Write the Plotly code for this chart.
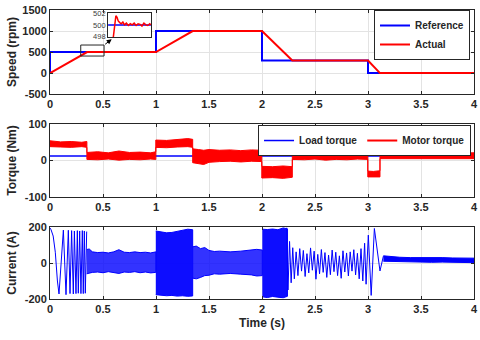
import plotly.graph_objects as go

# ---- speed (rpm) ----
ref_t = [0, 0, 1.0, 1.0, 2.0, 2.0, 3.0, 3.0, 4.0]
ref_speed = [0, 500, 500, 1000, 1000, 300, 300, 0, 0]
act_t = [0, 0.35, 1.0, 1.346, 2.0, 2.286, 3.0, 3.113, 4.0]
act_speed = [0, 500, 500, 1000, 1000, 300, 300, 0, 0]

# zoomed inset around the first step
inset_ref_t = [0.29, 0.51]
inset_ref_speed = [500, 500]
inset_act_t = [0.316, 0.322, 0.330, 0.336, 0.342, 0.350, 0.358, 0.366, 0.374, 0.384, 0.394,
               0.404, 0.414, 0.424, 0.434, 0.444, 0.454, 0.464, 0.474, 0.484, 0.494, 0.504, 0.51]
inset_act_speed = [497.6, 499.2, 501.6, 501.3, 500.7, 500.4, 500.2, 500.5, 500.0, 500.3, 499.9,
                   500.2, 500.0, 500.3, 499.9, 500.2, 500.1, 499.8, 500.3, 500.0, 499.9, 500.2, 500.0]
inset_x_range = [0.29, 0.51]
inset_y_range = [497.9, 502.1]

# ---- torque (Nm) ----
load_t = [0, 4.0]
load_torque = [12, 12]
# motor torque drawn as its noisy band: upper / lower envelope
mt_t = [0, 0.1, 0.2, 0.3, 0.348, 0.348, 0.45, 0.55, 0.65, 0.75, 0.85, 0.95, 0.998,
        0.998, 1.1, 1.2, 1.3, 1.346, 1.346, 1.4, 1.45, 1.5, 1.6, 1.7, 1.8, 1.9, 1.998,
        1.998, 2.1, 2.2, 2.286, 2.286, 2.4, 2.5, 2.6, 2.7, 2.8, 2.9, 2.998,
        2.998, 3.05, 3.113, 3.113, 3.3, 3.5, 3.7, 3.9, 4.0]
mt_upper = [54, 51, 52, 50, 52, 22, 24, 21, 26, 22, 23, 21, 24,
            56, 55, 57, 60, 58, 32, 30, 28, 30, 28, 29, 27, 29, 28,
            -16, -17, -15, -17, 26, 28, 24, 29, 25, 30, 26, 27,
            -29, -30, -28, 23, 22, 24, 21, 22, 21]
mt_lower = [38, 37, 36, 38, 36, 3, 2, 4, 1, 3, 2, 4, 3,
            36, 35, 37, 38, 36, -6, -8, -11, -5, -3, -2, -4, -2, -3,
            -48, -47, -49, -46, 3, 2, 4, 1, 3, 2, 4, 3,
            -45, -44, -45, 5, 4, 6, 4, 5, 5]

# ---- current (A) ----
# start-up oscillation (individual swings)
cur_a_t = [0, 0.01, 0.03, 0.05, 0.07, 0.085, 0.105, 0.126, 0.151, 0.173, 0.189, 0.204, 0.220,
           0.230, 0.245, 0.258, 0.267, 0.280, 0.292, 0.305, 0.314, 0.324, 0.333, 0.346]
cur_a = [195, 185, 150, 60, -100, -172, 0, 183, -176, 182, -170, 180, -172,
         178, -170, 180, -168, 178, -170, 180, -170, 178, -168, 175]
# dense parts drawn as envelope bands
band1_t = [0.346, 0.37, 0.40, 0.45, 0.50, 0.55, 0.60, 0.65, 0.70, 0.75, 0.80, 0.85, 0.90, 0.95, 0.998]
band1_up = [75, 78, 62, 58, 60, 56, 62, 74, 60, 58, 62, 58, 60, 56, 62]
band1_lo = [-60, -58, -52, -50, -54, -48, -52, -58, -50, -52, -48, -54, -50, -55, -52]
band2_t = [0.998, 1.05, 1.10, 1.15, 1.20, 1.25, 1.30, 1.346]
band2_up = [178, 172, 168, 170, 176, 182, 188, 185]
band2_lo = [-176, -178, -182, -180, -184, -182, -185, -183]
band3_t = [1.346, 1.38, 1.42, 1.46, 1.50, 1.55, 1.60, 1.70, 1.80, 1.90, 1.95, 2.003]
band3_up = [90, 94, 80, 86, 70, 64, 66, 62, 66, 70, 76, 72]
band3_lo = [-84, -88, -80, -70, -68, -60, -62, -58, -62, -66, -72, -70]
band4_t = [2.003, 2.05, 2.10, 2.15, 2.20, 2.24]
band4_up = [188, 186, 189, 185, 195, 190]
band4_lo = [-188, -192, -186, -190, -193, -185]
# speed-down oscillation 2.24 .. 3.15 s
cur_b_t = [2.233, 2.245, 2.26, 2.275, 2.29, 2.305, 2.322, 2.339, 2.356, 2.373, 2.390, 2.407, 2.424,
           2.441, 2.458, 2.475, 2.492, 2.509, 2.526, 2.543, 2.560, 2.577, 2.594, 2.611, 2.628,
           2.645, 2.662, 2.679, 2.696, 2.713, 2.730, 2.747, 2.764, 2.781, 2.798, 2.815, 2.832,
           2.849, 2.866, 2.883, 2.900, 2.917, 2.934, 2.951, 2.968, 2.982, 3.003, 3.03, 3.06,
           3.113, 3.145]
cur_b = [196, -150, 120, -110, 85, -88, 62, -70, 80, -45, 70, -75, 52, -55, 84, -40, 66, -90, 48,
         -60, 75, -52, 58, -80, 44, -65, 72, -48, 60, -70, 40, -85, 68, -50, 56, -72, 62,
         -45, 74, -66, 54, -88, 80, -100, 110, -118, 155, -180, 192, -44, 38]
# steady state band 3.145 .. 4 s
band5_t = [3.145, 3.2, 3.3, 3.4, 3.5, 3.6, 3.7, 3.8, 3.9, 4.0]
band5_up = [40, 36, 32, 30, 31, 29, 30, 28, 29, 27]
band5_lo = [10, 8, 6, 5, 6, 4, 5, 3, 4, 2]

x_ticks = [0, 0.5, 1, 1.5, 2, 2.5, 3, 3.5, 4]
x_labels = ["0", "0.5", "1", "1.5", "2", "2.5", "3", "3.5", "4"]
speed_ticks = [-500, 0, 500, 1000, 1500]
torque_ticks = [-100, 0, 100]
current_ticks = [-200, 0, 200]
inset_ticks = [498, 500, 502]

BLUE = "#0000ff"
RED = "#ff0000"
DARK = "#262626"
FONT = "Liberation Sans, Arial, sans-serif"

fig = go.Figure()

fig.add_trace(go.Scatter(x=ref_t, y=ref_speed, name="Reference", mode="lines",
                         line=dict(color=BLUE, width=2), xaxis="x", yaxis="y", legend="legend"))
fig.add_trace(go.Scatter(x=act_t, y=act_speed, name="Actual", mode="lines",
                         line=dict(color=RED, width=2), xaxis="x", yaxis="y", legend="legend"))

# white backing for the inset so the main grid does not show through it
ix0, ix1 = inset_x_range
iy0, iy1 = inset_y_range
fig.add_trace(go.Scatter(x=[ix0, ix1, ix1, ix0, ix0], y=[iy0, iy0, iy1, iy1, iy0], mode="lines",
                         fill="toself", fillcolor="white", line=dict(width=0), hoverinfo="skip",
                         showlegend=False, xaxis="x4", yaxis="y4"))
fig.add_trace(go.Scatter(x=inset_ref_t, y=inset_ref_speed, mode="lines", showlegend=False,
                         line=dict(color=BLUE, width=1.5), xaxis="x4", yaxis="y4"))
fig.add_trace(go.Scatter(x=inset_act_t, y=inset_act_speed, mode="lines", showlegend=False,
                         line=dict(color=RED, width=1.5), xaxis="x4", yaxis="y4"))

# torque
fig.add_trace(go.Scatter(x=load_t, y=load_torque, name="Load torque", mode="lines",
                         line=dict(color=BLUE, width=1.5), xaxis="x2", yaxis="y2", legend="legend2"))
fig.add_trace(go.Scatter(x=mt_t + mt_t[::-1], y=mt_upper + mt_lower[::-1], mode="lines",
                         fill="toself", fillcolor=RED, line=dict(color=RED, width=1),
                         showlegend=False, xaxis="x2", yaxis="y2"))
fig.add_trace(go.Scatter(x=[None], y=[None], name="Motor torque", mode="lines",
                         line=dict(color=RED, width=2), xaxis="x2", yaxis="y2", legend="legend2"))

# current
fig.add_trace(go.Scatter(x=cur_a_t, y=cur_a, mode="lines", showlegend=False,
                         line=dict(color=BLUE, width=1), xaxis="x3", yaxis="y3"))
bands = [(band1_t, band1_up, band1_lo, "rgba(0,0,255,0.8)"),
         (band2_t, band2_up, band2_lo, "rgba(0,0,255,0.95)"),
         (band3_t, band3_up, band3_lo, "rgba(0,0,255,0.8)"),
         (band4_t, band4_up, band4_lo, "rgba(0,0,255,0.95)"),
         (band5_t, band5_up, band5_lo, BLUE)]
for bt, bu, bl, fc in bands:
    fig.add_trace(go.Scatter(x=bt + bt[::-1], y=bu + bl[::-1], mode="lines", fill="toself",
                             fillcolor=fc, line=dict(color=BLUE, width=1), showlegend=False,
                             xaxis="x3", yaxis="y3"))
fig.add_trace(go.Scatter(x=cur_b_t, y=cur_b, mode="lines", showlegend=False,
                         line=dict(color=BLUE, width=1), xaxis="x3", yaxis="y3"))

bold = dict(family=FONT, size=11, color=DARK, weight="bold")
title_font = dict(family=FONT, size=12, color=DARK, weight="bold")
legend_font = dict(family=FONT, size=10, color=DARK, weight="bold")


def xax(anchor, title=None):
    d = dict(domain=[0, 1], range=[0, 4], anchor=anchor, tickvals=x_ticks, ticktext=x_labels,
             showgrid=True, gridcolor="#e3e3e3", zeroline=False, showline=True, linecolor=DARK,
             linewidth=1, mirror="allticks", ticks="inside", ticklen=3, tickcolor=DARK,
             tickfont=bold, automargin=False, ticklabeloverflow="allow")
    if title:
        d["title"] = dict(text=title, font=title_font, standoff=4)
    return d


def yax(anchor, dom, rng, ticks, title):
    return dict(domain=dom, range=rng, anchor=anchor, tickvals=ticks,
                ticktext=[str(t) for t in ticks],
                showgrid=True, gridcolor="#e3e3e3", zeroline=False, showline=True, linecolor=DARK,
                linewidth=1, mirror="allticks", ticks="inside", ticklen=3, tickcolor=DARK,
                tickfont=bold, automargin=False, ticklabeloverflow="allow",
                title=dict(text=title, font=title_font))


fig.update_layout(
    width=480, height=340,
    margin=dict(l=50, r=6, t=10, b=41),
    paper_bgcolor="white", plot_bgcolor="white",
    template="none",
    xaxis=xax("y"),
    yaxis=yax("x", [0.709, 1.0], [-500, 1500], speed_ticks, "Speed (rpm)"),
    xaxis2=xax("y2"),
    yaxis2=yax("x2", [0.353, 0.6055], [-100, 100], torque_ticks, "Torque (Nm)"),
    xaxis3=xax("y3", "Time (s)"),
    yaxis3=yax("x3", [0, 0.249], [-200, 200], current_ticks, "Current (A)"),
    xaxis4=dict(domain=[0.137, 0.238], range=inset_x_range, anchor="y4", showticklabels=False,
                showgrid=False, zeroline=False, showline=True, linecolor=DARK, mirror=True, ticks="",
                automargin=False),
    yaxis4=dict(domain=[0.907, 0.99], range=inset_y_range, anchor="x4", tickvals=inset_ticks,
                ticktext=[str(t) for t in inset_ticks], showgrid=False, zeroline=False,
                showline=True, linecolor=DARK, mirror=True, ticks="", automargin=False,
                tickfont=dict(family=FONT, size=7.5, color="#404040")),
    legend=dict(x=0.9906, xanchor="right", y=1.0, yanchor="top", bgcolor="white",
                bordercolor=DARK, borderwidth=1, font=legend_font, itemwidth=30, tracegroupgap=0),
    legend2=dict(orientation="h", x=0.993, xanchor="right", y=0.602, yanchor="top", bgcolor="white",
                 bordercolor=DARK, borderwidth=1, font=legend_font, itemwidth=30),
    shapes=[
        dict(type="rect", xref="x", yref="y", x0=0.29, x1=0.51, y0=405, y1=667,
             line=dict(color=DARK, width=1)),
    ],
    annotations=[
        dict(x=0.582, y=802, xref="x", yref="y", ax=-8, ay=6, text="", showarrow=True,
             arrowhead=2, arrowsize=1, arrowwidth=1, arrowcolor="black"),
    ],
)

# drop the default page margin so the figure sits at the window's corner
fig.write_html("out.html", config={"displayModeBar": False},
               post_script="document.body.style.margin='0';")
